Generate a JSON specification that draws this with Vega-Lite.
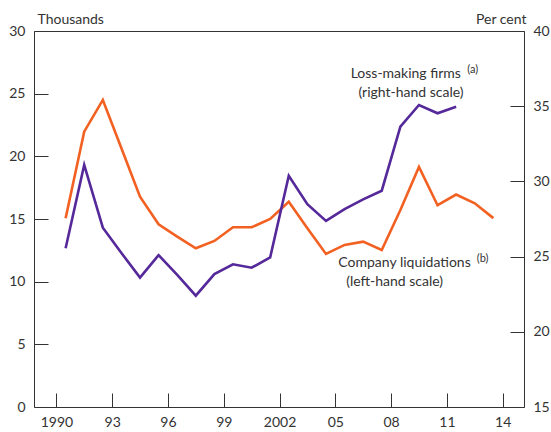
{
  "$schema": "https://vega.github.io/schema/vega-lite/v6.json",
  "width": 490,
  "height": 376,
  "autosize": {"type": "none"},
  "padding": {"left": 34, "top": 31, "right": 27, "bottom": 25},
  "config": {
    "view": {"stroke": "#333333", "strokeWidth": 1},
    "font": "Lato",
    "axis": {"labelFont": "Lato", "labelFontSize": 14, "labelColor": "#333333", "titleFont": "Lato", "titleFontSize": 14, "titleFontWeight": "normal", "titleColor": "#333333", "grid": false, "domain": false, "tickColor": "#333333", "tickWidth": 1}
  },
  "datasets": {
    "series": [
      {"year": "1990-07-01", "liquidations": 15.06, "lossmaking": 25.55},
      {"year": "1991-07-01", "liquidations": 21.97, "lossmaking": 31.1},
      {"year": "1992-07-01", "liquidations": 24.5, "lossmaking": 26.92},
      {"year": "1993-07-01", "liquidations": 20.64, "lossmaking": 25.24},
      {"year": "1994-07-01", "liquidations": 16.78, "lossmaking": 23.6},
      {"year": "1995-07-01", "liquidations": 14.58, "lossmaking": 25.1},
      {"year": "1996-07-01", "liquidations": 13.6, "lossmaking": 23.78},
      {"year": "1997-07-01", "liquidations": 12.66, "lossmaking": 22.4},
      {"year": "1998-07-01", "liquidations": 13.25, "lossmaking": 23.84},
      {"year": "1999-07-01", "liquidations": 14.34, "lossmaking": 24.49},
      {"year": "2000-07-01", "liquidations": 14.34, "lossmaking": 24.26},
      {"year": "2001-07-01", "liquidations": 15.0, "lossmaking": 24.95},
      {"year": "2002-07-01", "liquidations": 16.38, "lossmaking": 30.38},
      {"year": "2003-07-01", "liquidations": 14.26, "lossmaking": 28.48},
      {"year": "2004-07-01", "liquidations": 12.21, "lossmaking": 27.37},
      {"year": "2005-07-01", "liquidations": 12.93, "lossmaking": 28.16},
      {"year": "2006-07-01", "liquidations": 13.19, "lossmaking": 28.81},
      {"year": "2007-07-01", "liquidations": 12.53, "lossmaking": 29.38},
      {"year": "2008-07-01", "liquidations": 15.72, "lossmaking": 33.64},
      {"year": "2009-07-01", "liquidations": 19.15, "lossmaking": 35.08},
      {"year": "2010-07-01", "liquidations": 16.1, "lossmaking": 34.53},
      {"year": "2011-07-01", "liquidations": 16.95, "lossmaking": 34.97},
      {"year": "2012-07-01", "liquidations": 16.25, "lossmaking": null},
      {"year": "2013-07-01", "liquidations": 15.07, "lossmaking": null}
    ],
    "notes": [
      {"year": "2008-10-15", "level": 26.57, "label": "Loss-making firms", "kind": "main"},
      {"year": "2009-01-25", "level": 25.08, "label": "(right-hand scale)", "kind": "main"},
      {"year": "2012-05-20", "level": 26.85, "label": "(a)", "kind": "sup"},
      {"year": "2008-09-20", "level": 11.49, "label": "Company liquidations", "kind": "main"},
      {"year": "2012-12-01", "level": 11.8, "label": "(b)", "kind": "sup"},
      {"year": "2008-03-10", "level": 10.0, "label": "(left-hand scale)", "kind": "main"}
    ]
  },
  "layer": [
    {
      "data": {"name": "series"},
      "mark": {"type": "line", "color": "#f26122", "strokeWidth": 2.6},
      "encoding": {
        "x": {"field": "year", "type": "temporal",
          "scale": {"domain": ["1988-10-18", "2015-02-23"]},
          "axis": {"title": null, "values": [{"year": 1990}, {"year": 1993}, {"year": 1996}, {"year": 1999}, {"year": 2002}, {"year": 2005}, {"year": 2008}, {"year": 2011}, {"year": 2014}],
            "labelExpr": "year(datum.value) == 1990 || year(datum.value) == 2002 ? '' + year(datum.value) : slice('' + year(datum.value), 2)",
            "tickSize": -14, "labelPadding": 22}},
        "y": {"field": "liquidations", "type": "quantitative",
          "scale": {"domain": [0, 30]},
          "axis": {"orient": "left", "values": [0, 5, 10, 15, 20, 25, 30], "tickSize": -14, "labelPadding": 23,
            "title": "Thousands", "titleAngle": 0, "titleAlign": "left", "titleBaseline": "alphabetic", "titleX": 3, "titleY": -8}}
      }
    },
    {
      "data": {"name": "series"},
      "mark": {"type": "line", "color": "#55299a", "strokeWidth": 2.6},
      "encoding": {
        "x": {"field": "year", "type": "temporal"},
        "y": {"field": "lossmaking", "type": "quantitative",
          "scale": {"domain": [15, 40]},
          "axis": {"orient": "right", "values": [15, 20, 25, 30, 35, 40], "tickSize": -14, "labelPadding": 23,
            "title": "Per cent", "titleAngle": 0, "titleAlign": "right", "titleBaseline": "alphabetic", "titleX": 2, "titleY": -8}}
      }
    },
    {
      "data": {"name": "notes"},
      "transform": [{"filter": "datum.kind == 'main'"}],
      "mark": {"type": "text", "font": "Lato", "fontSize": 14, "color": "#333333", "align": "center", "baseline": "middle"},
      "encoding": {
        "x": {"field": "year", "type": "temporal"},
        "y": {"field": "level", "type": "quantitative", "scale": {"domain": [0, 30]}, "axis": null},
        "text": {"field": "label"}
      }
    },
    {
      "data": {"name": "notes"},
      "transform": [{"filter": "datum.kind == 'sup'"}],
      "mark": {"type": "text", "font": "Lato", "fontSize": 11, "color": "#333333", "align": "center", "baseline": "middle"},
      "encoding": {
        "x": {"field": "year", "type": "temporal"},
        "y": {"field": "level", "type": "quantitative", "scale": {"domain": [0, 30]}, "axis": null},
        "text": {"field": "label"}
      }
    }
  ],
  "resolve": {"scale": {"y": "independent"}, "axis": {"y": "independent"}}
}
